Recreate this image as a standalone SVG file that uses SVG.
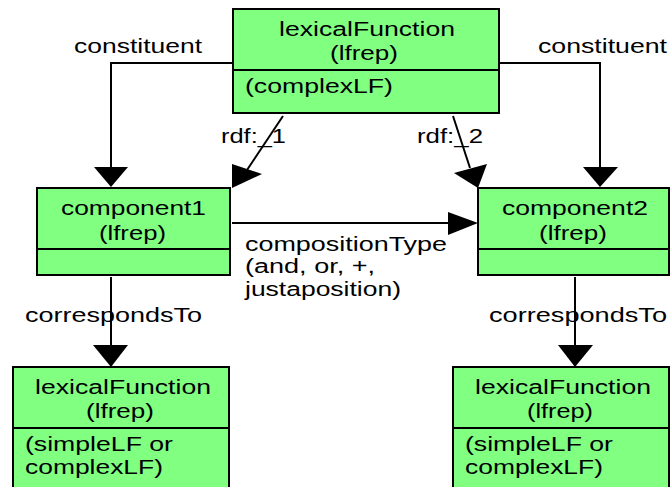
<svg xmlns="http://www.w3.org/2000/svg" width="670" height="487" viewBox="0 0 670 487">
<style>
.box{fill:#80ff80;stroke:#000;stroke-width:2}
.div{stroke:#000;stroke-width:2}
.ln{fill:none;stroke:#000;stroke-width:2}
.ah{fill:#000;stroke:none}
text{font-family:"Liberation Sans",Arial,sans-serif;font-size:20px;fill:#000}
</style>
<rect width="670" height="487" fill="#fff"/>
<g id="connectors">
<polyline class="ln" points="233,63 111,63 111,168"/>
<polygon class="ah" points="94,167 128,167 111,187"/>
<polyline class="ln" points="499,63 600,63 600,168"/>
<polygon class="ah" points="583,167 618,167 600,187"/>
<line class="ln" x1="283" y1="116" x2="247" y2="170"/>
<polygon class="ah" points="232,188 232,164 262,174"/>
<line class="ln" x1="453" y1="116" x2="470" y2="168"/>
<polygon class="ah" points="478,188 454,173 487,164"/>
<line class="ln" x1="232" y1="223" x2="449" y2="223"/>
<polygon class="ah" points="448,212 448,235 478,223"/>
<line class="ln" x1="111" y1="277" x2="111" y2="346"/>
<polygon class="ah" points="93,345 128,345 111,367"/>
<line class="ln" x1="575" y1="277" x2="575" y2="346"/>
<polygon class="ah" points="558,345 593,345 575,367"/>
<text x="74" y="53" textLength="128" lengthAdjust="spacingAndGlyphs">constituent</text>
<text x="538" y="53" textLength="129" lengthAdjust="spacingAndGlyphs">constituent</text>
<text x="221" y="143" textLength="65" lengthAdjust="spacingAndGlyphs">rdf:_1</text>
<text x="417" y="143" textLength="66" lengthAdjust="spacingAndGlyphs">rdf:_2</text>
<text x="245" y="251" textLength="202" lengthAdjust="spacingAndGlyphs">compositionType</text>
<text x="245" y="273" textLength="130" lengthAdjust="spacingAndGlyphs">(and, or, +,</text>
<text x="245" y="296" textLength="156" lengthAdjust="spacingAndGlyphs">justaposition)</text>
<text x="25" y="322" textLength="177" lengthAdjust="spacingAndGlyphs">correspondsTo</text>
<text x="489" y="322" textLength="178" lengthAdjust="spacingAndGlyphs">correspondsTo</text>
</g>
<g id="lexicalFunction-top">
<rect class="box" x="233" y="9" width="266" height="104"/>
<line class="div" x1="233" y1="70" x2="499" y2="70"/>
<text x="279" y="36" textLength="176" lengthAdjust="spacingAndGlyphs">lexicalFunction</text>
<text x="330" y="60" textLength="68" lengthAdjust="spacingAndGlyphs">(lfrep)</text>
<text x="245" y="93" textLength="148" lengthAdjust="spacingAndGlyphs">(complexLF)</text>
</g>
<g id="component1">
<rect class="box" x="37" y="188" width="193" height="87"/>
<line class="div" x1="37" y1="249" x2="230" y2="249"/>
<text x="61" y="215" textLength="145" lengthAdjust="spacingAndGlyphs">component1</text>
<text x="99" y="240" textLength="67" lengthAdjust="spacingAndGlyphs">(lfrep)</text>
</g>
<g id="component2">
<rect class="box" x="478" y="188" width="191" height="87"/>
<line class="div" x1="478" y1="249" x2="669" y2="249"/>
<text x="502" y="215" textLength="146" lengthAdjust="spacingAndGlyphs">component2</text>
<text x="539" y="240" textLength="68" lengthAdjust="spacingAndGlyphs">(lfrep)</text>
</g>
<g id="lexicalFunction-left">
<rect class="box" x="13" y="367" width="216" height="130"/>
<line class="div" x1="13" y1="428" x2="229" y2="428"/>
<text x="35" y="394" textLength="176" lengthAdjust="spacingAndGlyphs">lexicalFunction</text>
<text x="86" y="418" textLength="68" lengthAdjust="spacingAndGlyphs">(lfrep)</text>
<text x="25" y="451" textLength="148" lengthAdjust="spacingAndGlyphs">(simpleLF or</text>
<text x="25" y="474" textLength="138" lengthAdjust="spacingAndGlyphs">complexLF)</text>
</g>
<g id="lexicalFunction-right">
<rect class="box" x="453" y="367" width="216" height="130"/>
<line class="div" x1="453" y1="428" x2="669" y2="428"/>
<text x="475" y="394" textLength="176" lengthAdjust="spacingAndGlyphs">lexicalFunction</text>
<text x="527" y="418" textLength="66" lengthAdjust="spacingAndGlyphs">(lfrep)</text>
<text x="465" y="451" textLength="148" lengthAdjust="spacingAndGlyphs">(simpleLF or</text>
<text x="465" y="474" textLength="138" lengthAdjust="spacingAndGlyphs">complexLF)</text>
</g>
</svg>
